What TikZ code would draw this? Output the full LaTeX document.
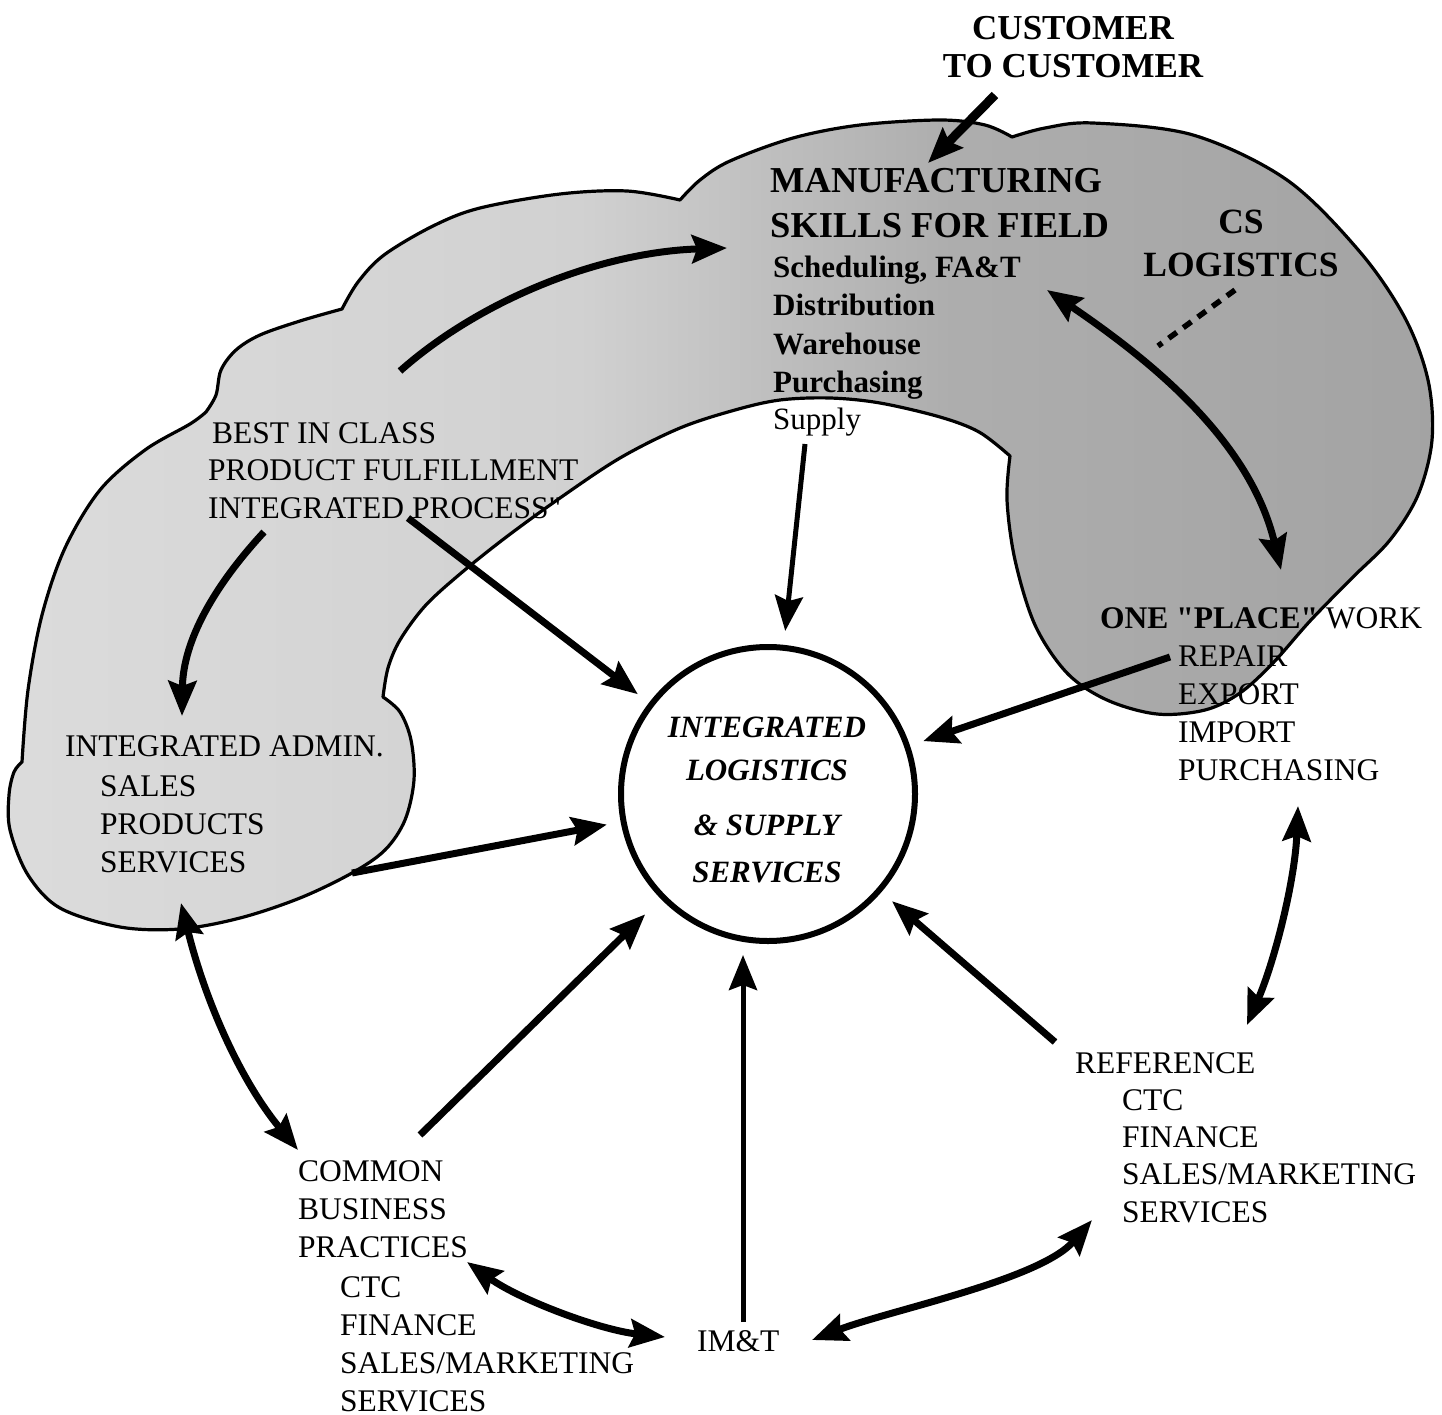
\documentclass[tikz,border=0pt]{standalone}
\usepackage{fontspec}
\setmainfont{Liberation Serif}
\usetikzlibrary{arrows.meta}
% light on the left, darker towards the upper right
\pgfdeclarehorizontalshading{cloudshade}{100bp}{color(0bp)=(black!14); color(25bp)=(black!14); color(45bp)=(black!18); color(58bp)=(black!32); color(75bp)=(black!36); color(100bp)=(black!36)}

\begin{document}
\begin{tikzpicture}[x=1pt,y=-1pt,
  txt/.style={inner sep=0pt, anchor=base west, font=\fontsize{31.5}{38}\selectfont},
  link/.style={-{Stealth[length=35pt,width=28pt,inset=5pt]}, line width=7pt},
  twoway/.style={{Stealth[length=35pt,width=28pt,inset=5pt]}-{Stealth[length=35pt,width=28pt,inset=5pt]}, line width=7pt},
  slim/.style={line width=5pt},
  gap/.style={shorten >=14pt}]
\useasboundingbox (0,0) rectangle (1442,1415);

% ---- shaded band: left arc, top bumps, right lobe and admin cloud ----
\shadedraw[shading=cloudshade, line width=3.2pt, line join=round]
  plot[smooth, tension=0.55] coordinates {(22,762) (28,690) (42,615) (65,548) (100,490) (145,450) (190,424) (206,412)}
  -- plot[smooth, tension=0.55] coordinates {(206,412) (216,395) (221,370) (236,350) (260,335) (300,321) (342,309)}
  -- plot[smooth, tension=0.55] coordinates {(342,309) (358,282) (384,255) (433,226) (480,208) (560,194) (627,191) (680,200)}
  -- plot[smooth, tension=0.55] coordinates {(680,200) (700,180) (730,161) (793,138) (860,125) (940,120) (985,125) (1012,137)}
  -- plot[smooth, tension=0.55] coordinates {(1012,137) (1045,128) (1093,123) (1193,135) (1287,180) (1360,252) (1405,318) (1428,380) (1432,440) (1418,495) (1390,540) (1352,578) (1310,621) (1273,663) (1240,693) (1205,710) (1157,714) (1107,700) (1067,673) (1035,625) (1015,560) (1007,500) (1010,456)}
  -- plot[smooth, tension=0.55] coordinates {(1010,456) (979,432) (940,417) (880,403) (830,398) (780,400) (735,410) (680,428) (620,458) (560,498) (505,538) (460,574) (425,606) (400,640) (388,668) (383,697)}
  -- plot[smooth, tension=0.55] coordinates {(383,697) (400,712) (411,740) (414,780) (405,820) (385,850) (352,873) (300,898) (240,918) (180,929) (120,927) (60,908) (28,875) (10,830) (9,795) (14,772) (22,762)}
  -- cycle;

% ---- central circle ----
\node[draw, circle, line width=6pt, minimum size=294pt, inner sep=0pt, fill=white] (core) at (768,794) {};
\node[inner sep=0pt, anchor=base, font=\bfseries\itshape\fontsize{31}{43}\selectfont] (coretext) at (767,737)
  {\begin{tabular}[t]{@{}c@{}}INTEGRATED\\LOGISTICS\\[12pt]\& SUPPLY\\[4pt]SERVICES\end{tabular}};

% ---- text blocks ----
\node[txt, anchor=base, font=\bfseries\fontsize{35}{38}\selectfont] (cust) at (1073,40)
  {\begin{tabular}[t]{@{}c@{}}CUSTOMER\\TO CUSTOMER\end{tabular}};
\node[txt, font=\bfseries\fontsize{36.5}{45}\selectfont] (manuf) at (770,193)
  {\begin{tabular}[t]{@{}l@{}}MANUFACTURING\\SKILLS FOR FIELD\end{tabular}};
\node[txt, font=\bfseries\fontsize{31}{38.5}\selectfont] (mlist) at (773,277)
  {\begin{tabular}[t]{@{}l@{}}Scheduling, FA\&T\\Distribution\\Warehouse\\Purchasing\\[-1.5pt]{\mdseries Supply}\end{tabular}};
\node[txt, anchor=base, font=\bfseries\fontsize{35.5}{43}\selectfont] (cs) at (1241,234)
  {\begin{tabular}[t]{@{}c@{}}CS\\LOGISTICS\end{tabular}};
\node[txt, font=\fontsize{31.5}{37.5}\selectfont] (best) at (208,443)
  {\begin{tabular}[t]{@{}l@{}}\hspace*{4pt}BEST IN CLASS\\PRODUCT FULFILLMENT\\INTEGRATED PROCESS\textquotedbl\end{tabular}};
\node[txt] (admin) at (65,756)
  {\begin{tabular}[t]{@{}l@{}}INTEGRATED ADMIN.\\[2pt]\hspace*{35pt}SALES\\\hspace*{35pt}PRODUCTS\\\hspace*{35pt}SERVICES\end{tabular}};
\node[txt] (place) at (1100,628)
  {\begin{tabular}[t]{@{}l@{}}{\bfseries ONE \textquotedbl PLACE\textquotedbl} WORK\\\hspace*{78pt}REPAIR\\\hspace*{78pt}EXPORT\\\hspace*{78pt}IMPORT\\\hspace*{78pt}PURCHASING\end{tabular}};
\node[txt, font=\fontsize{31.5}{37.3}\selectfont] (ref) at (1075,1073)
  {\begin{tabular}[t]{@{}l@{}}REFERENCE\\\hspace*{47pt}CTC\\\hspace*{47pt}FINANCE\\\hspace*{47pt}SALES/MARKETING\\\hspace*{47pt}SERVICES\end{tabular}};
\node[txt] (common) at (298,1181)
  {\begin{tabular}[t]{@{}l@{}}COMMON\\BUSINESS\\PRACTICES\\[2pt]\hspace*{42pt}CTC\\\hspace*{42pt}FINANCE\\\hspace*{42pt}SALES/MARKETING\\\hspace*{42pt}SERVICES\end{tabular}};
\node[txt] (imt) at (697,1351) {IM\&T};

% ---- connector ends ----
\coordinate (custA) at (995,95);    \coordinate (custB) at (928,163);
\coordinate (bestR) at (400,371);   \coordinate (manufL) at (727,248);
\coordinate (bestD) at (264,532);   \coordinate (adminU) at (182,716);
\coordinate (bestC) at (408,518);
\coordinate (supD) at (805,444);
\coordinate (mpA) at (1047,290);    \coordinate (mpB) at (1281,570);
\coordinate (csD) at (1235,290);    \coordinate (csE) at (1158,346);
\coordinate (repL) at (1170,657);
\coordinate (admR) at (352,873);
\coordinate (purD) at (1298,806);   \coordinate (refU) at (1247,1025);
\coordinate (refC) at (1055,1042);
\coordinate (imtU) at (743,1322);
\coordinate (comC) at (420,1135);
\coordinate (admD) at (181,903);    \coordinate (comU) at (298,1150);
\coordinate (comR) at (467,1262);   \coordinate (imtL) at (665,1337);
\coordinate (imtR) at (812,1340);   \coordinate (refD) at (1092,1220);

% ---- connectors ----
\draw[link, line width=9pt] (custA) -- (custB);
\draw[link] (bestR) .. controls (480,300) and (600,252) .. (manufL);
\draw[link] (bestD) .. controls (215,585) and (183,640) .. (adminU);
\draw[link, gap] (bestC) -- (core);
\draw[link, slim, gap] (supD) -- (core);
\draw[twoway] (mpA) .. controls (1150,360) and (1250,440) .. (mpB);
\draw[line width=5.5pt, dash pattern=on 10pt off 8pt] (csD) -- (csE);
\draw[link, gap] (repL) -- (core);
\draw[link, gap] (admR) -- (core);
\draw[twoway] (purD) .. controls (1295,880) and (1275,960) .. (refU);
\draw[link, gap] (refC) -- (core);
\draw[link, slim, shorten >=11pt] (imtU) -- (imtU |- core.south);
\draw[link, shorten >=22pt] (comC) -- (core);
\draw[twoway] (admD) .. controls (205,1000) and (240,1080) .. (comU);
\draw[twoway] (comR) .. controls (520,1300) and (600,1330) .. (imtL);
\draw[twoway] (imtR) .. controls (890,1310) and (1040,1280) .. (refD);
\end{tikzpicture}
\end{document}
